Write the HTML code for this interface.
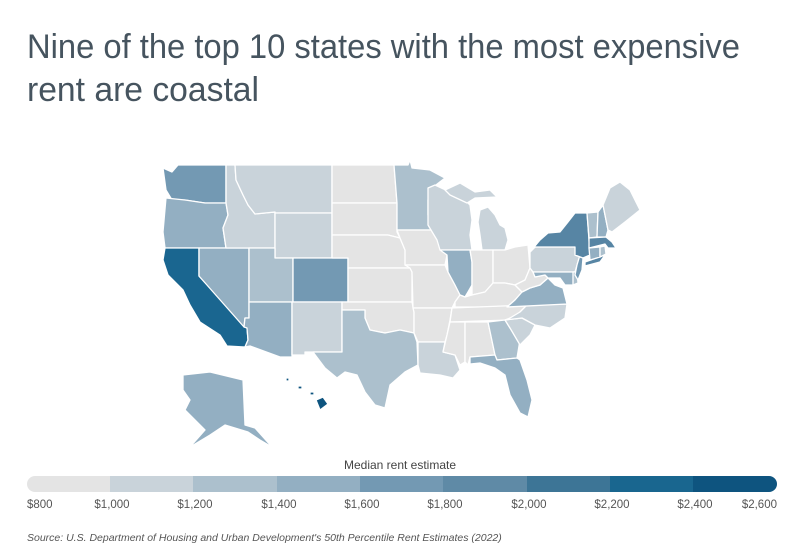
<!DOCTYPE html>
<html><head><meta charset="utf-8"><style>
html,body{margin:0;padding:0;background:#fff;}
svg{display:block;font-family:"Liberation Sans",sans-serif;}
.s path{stroke:#fff;stroke-width:1.3;stroke-linejoin:round;}
.a{fill:#e4e4e4}.b{fill:#c9d3da}.c{fill:#acc0cd}.d{fill:#93afc2}.e{fill:#7399b3}.f{fill:#5785a4}.g{fill:#1a6690}.h{fill:#0e547f}
</style></head><body>
<svg width="801" height="559" viewBox="0 0 801 559">
<text x="27" y="58" font-size="34" fill="#46545f" textLength="713" lengthAdjust="spacingAndGlyphs">Nine of the top 10 states with the most expensive</text>
<text x="27" y="101" font-size="34" fill="#46545f" textLength="232" lengthAdjust="spacingAndGlyphs">rent are coastal</text>
<g class="s">
<path class="e" d="M163,168 L172,172 L178,165 L226,165 L226,203 L205,203 L185,200 L172,200 L166,190 Z"/>
<path class="d" d="M166,198 L185,200 L205,203 L226,203 L228,215 L223,228 L226,248 L165,248 L163,232 Z"/>
<path class="g" d="M165,248 L199,248 L199,276 L247,328 L248,340 L245,347 L227,346 L220,335 L200,322 L190,305 L183,290 L168,275 L163,260 Z"/>
<path class="d" d="M199,248 L249,248 L249,318 L245,318 L244,327 L199,276 Z"/>
<path class="b" d="M226,165 L235,165 L236,180 L243,195 L248,205 L255,214 L275,212 L275,248 L226,248 L223,228 L228,215 L226,203 Z"/>
<path class="b" d="M235,165 L332,165 L332,213 L275,213 L275,212 L255,214 L248,205 L243,195 L236,180 Z"/>
<path class="b" d="M275,213 L332,213 L332,258 L275,258 Z"/>
<path class="c" d="M249,248 L275,248 L275,258 L293,258 L293,302 L249,302 Z"/>
<path class="e" d="M293,258 L348,258 L348,302 L293,302 Z"/>
<path class="d" d="M249,302 L292,302 L292,357 L280,357 L250,346 L245,347 L248,340 L247,328 L244,327 L245,318 L249,318 Z"/>
<path class="b" d="M292,302 L342,302 L342,352 L305,352 L305,355 L292,355 Z"/>
<path class="a" d="M332,165 L394,165 L397,203 L332,203 Z"/>
<path class="a" d="M332,203 L397,203 L397,232 L400,238 L388,235 L332,235 Z"/>
<path class="a" d="M332,235 L388,235 L400,238 L405,250 L410,268 L348,268 L348,258 L332,258 Z"/>
<path class="a" d="M348,268 L410,268 L412,272 L412,302 L348,302 Z"/>
<path class="a" d="M342,302 L412,302 L414,312 L414,333 L400,330 L385,333 L370,330 L365,318 L365,310 L342,310 Z"/>
<path class="c" d="M342,310 L365,310 L365,318 L370,330 L385,333 L400,330 L414,333 L417,342 L418,365 L405,372 L390,385 L385,408 L375,405 L365,392 L357,375 L345,372 L337,378 L325,368 L313,352 L342,352 Z"/>
<path class="c" d="M394,165 L408,165 L410,160 L412,168 L430,170 L445,178 L432,188 L428,200 L428,215 L440,225 L445,230 L397,230 L397,203 Z"/>
<path class="a" d="M397,230 L445,230 L448,240 L453,245 L447,255 L445,265 L405,265 L405,250 L400,238 Z"/>
<path class="a" d="M405,265 L445,265 L448,272 L455,285 L460,295 L455,302 L452,308 L413,308 L412,272 L410,268 Z"/>
<path class="a" d="M413,308 L452,308 L450,320 L447,335 L445,342 L418,342 L414,333 L414,312 Z"/>
<path class="b" d="M418,342 L445,342 L443,352 L455,355 L460,370 L453,378 L440,375 L420,373 L418,365 Z"/>
<path class="b" d="M428,188 L435,185 L450,192 L465,200 L470,205 L472,220 L470,235 L472,250 L440,250 L437,240 L428,225 L428,215 L428,200 Z"/>
<path class="b" d="M445,190 L460,183 L475,192 L490,190 L497,197 L475,198 L467,203 L450,195 Z"/>
<path class="b" d="M480,210 L488,207 L495,215 L500,225 L505,228 L508,240 L505,250 L482,250 L480,235 L478,222 Z"/>
<path class="d" d="M440,250 L470,250 L472,262 L472,285 L468,292 L465,297 L460,295 L455,285 L448,272 L447,255 Z"/>
<path class="a" d="M470,250 L493,250 L493,283 L485,292 L472,295 L472,262 Z"/>
<path class="a" d="M493,250 L505,250 L515,247 L528,245 L530,268 L525,280 L515,285 L505,283 L493,283 Z"/>
<path class="a" d="M460,295 L465,297 L472,295 L485,292 L493,283 L505,283 L515,285 L522,292 L515,300 L507,307 L455,307 L455,302 Z"/>
<path class="a" d="M452,308 L527,305 L520,312 L510,320 L450,322 Z"/>
<path class="a" d="M450,322 L465,322 L465,362 L460,365 L455,355 L443,352 L447,335 Z"/>
<path class="a" d="M465,322 L488,322 L495,355 L470,357 L468,365 L465,362 Z"/>
<path class="c" d="M488,322 L505,320 L510,328 L520,340 L517,358 L497,360 L495,355 Z"/>
<path class="d" d="M470,357 L495,355 L497,360 L517,358 L520,360 L527,380 L532,400 L528,417 L520,413 L510,395 L505,375 L495,368 L480,363 L470,364 Z"/>
<path class="b" d="M505,320 L522,318 L535,325 L530,335 L520,345 L510,328 Z"/>
<path class="b" d="M527,305 L567,304 L565,318 L550,328 L535,325 L522,318 L505,320 L510,318 L520,312 Z"/>
<path class="d" d="M507,307 L515,300 L522,292 L530,288 L540,285 L548,278 L555,285 L563,288 L567,304 Z"/>
<path class="a" d="M515,285 L525,280 L530,268 L533,272 L535,277 L545,275 L548,278 L540,285 L530,288 L522,292 Z"/>
<path class="b" d="M530,252 L535,247 L575,247 L580,255 L577,265 L575,272 L533,272 L530,268 Z"/>
<path class="d" d="M533,272 L575,272 L573,285 L565,285 L560,278 L548,278 L545,275 L535,277 Z"/>
<path class="c" d="M573,272 L577,272 L578,283 L573,285 Z"/>
<path class="e" d="M575,255 L583,258 L582,270 L578,280 L575,275 L577,265 L580,255 Z"/>
<path class="f" d="M530,252 L540,240 L548,233 L560,232 L568,222 L575,213 L587,213 L589,240 L590,255 L583,258 L575,255 L575,247 L535,247 Z"/>
<path class="f" d="M585,262 L605,255 L600,262 L585,266 Z"/>
<path class="c" d="M587,213 L598,212 L597,237 L589,238 Z"/>
<path class="d" d="M598,212 L603,205 L608,230 L606,237 L597,237 Z"/>
<path class="b" d="M603,205 L610,188 L620,182 L630,190 L640,210 L625,222 L612,232 L608,230 Z"/>
<path class="f" d="M589,238 L606,237 L612,242 L616,248 L608,248 L605,244 L589,248 Z"/>
<path class="d" d="M589,248 L600,247 L600,257 L590,260 Z"/>
<path class="c" d="M600,247 L605,246 L606,254 L600,257 Z"/>
<path class="d" d="M183,375 L210,372 L243,380 L245,425 L255,428 L272,447 L260,440 L248,432 L225,425 L210,435 L190,447 L205,430 L195,420 L185,410 L190,400 L183,390 Z"/>
<path class="h" d="M316,400 L323,397 L328,404 L320,410 Z"/>
<path class="h" d="M310,392 L314,392 L314,395 L310,395 Z"/>
<path class="h" d="M298,386 L302,386 L302,389 L298,389 Z"/>
<path class="h" d="M286,378 L289,378 L289,381 L286,381 Z"/>
</g>
<text x="400" y="469" font-size="12" fill="#444" text-anchor="middle">Median rent estimate</text>
<clipPath id="cl"><rect x="27" y="476" width="750" height="16" rx="8"/></clipPath>
<g clip-path="url(#cl)">
<rect x="27" y="476" width="84" height="16" fill="#e4e4e4"/>
<rect x="110" y="476" width="84" height="16" fill="#c9d3da"/>
<rect x="193" y="476" width="84" height="16" fill="#acc0cd"/>
<rect x="277" y="476" width="84" height="16" fill="#93afc2"/>
<rect x="360" y="476" width="84" height="16" fill="#7399b3"/>
<rect x="443" y="476" width="84" height="16" fill="#5f8aa6"/>
<rect x="527" y="476" width="84" height="16" fill="#3d7596"/>
<rect x="610" y="476" width="84" height="16" fill="#19668f"/>
<rect x="693" y="476" width="84" height="16" fill="#0e547f"/>
</g>
<g font-size="11.5" fill="#555" text-anchor="middle">
<text x="27" y="508" text-anchor="start">$800</text>
<text x="112" y="508">$1,000</text>
<text x="195" y="508">$1,200</text>
<text x="279" y="508">$1,400</text>
<text x="362" y="508">$1,600</text>
<text x="445" y="508">$1,800</text>
<text x="529" y="508">$2,000</text>
<text x="612" y="508">$2,200</text>
<text x="695" y="508">$2,400</text>
<text x="777" y="508" text-anchor="end">$2,600</text>
</g>
<text x="27" y="541" font-size="10.5" font-style="italic" fill="#555">Source:  U.S. Department of Housing and Urban Development's 50th Percentile Rent Estimates (2022)</text>
</svg>
</body></html>
